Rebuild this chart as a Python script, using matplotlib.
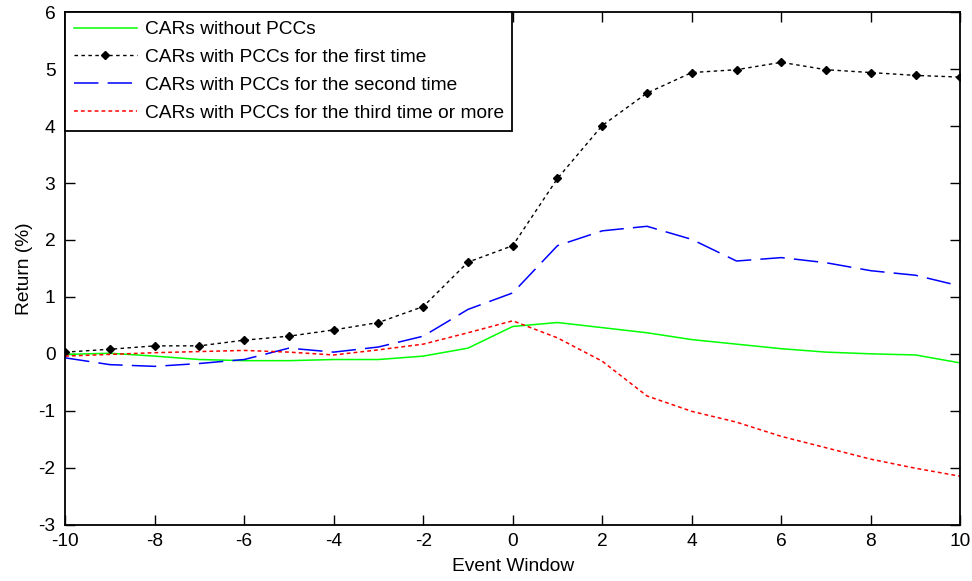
import matplotlib
matplotlib.use("Agg")
import matplotlib.pyplot as plt

# event window days
days = list(range(-10, 11))

# cumulative abnormal returns (%)
car_none = [-0.01, 0.01, -0.04, -0.10, -0.12, -0.12, -0.10, -0.10, -0.04, 0.10, 0.48,
            0.55, 0.46, 0.37, 0.25, 0.17, 0.09, 0.03, 0.00, -0.02, -0.16]
car_first = [0.03, 0.08, 0.14, 0.14, 0.24, 0.31, 0.42, 0.55, 0.83, 1.61, 1.90,
             3.08, 4.01, 4.58, 4.94, 4.99, 5.12, 4.99, 4.94, 4.89, 4.86]
car_second = [-0.07, -0.19, -0.22, -0.17, -0.10, 0.10, 0.03, 0.12, 0.31, 0.78, 1.07,
              1.90, 2.16, 2.24, 2.01, 1.63, 1.69, 1.60, 1.46, 1.38, 1.19]
car_third = [-0.04, -0.01, 0.02, 0.04, 0.06, 0.03, -0.02, 0.07, 0.17, 0.37, 0.58,
             0.28, -0.13, -0.74, -1.01, -1.20, -1.45, -1.65, -1.85, -2.01, -2.15]

labels = ["CARs without PCCs",
          "CARs with PCCs for the first time",
          "CARs with PCCs for the second time",
          "CARs with PCCs for the third time or more"]

xticks = list(range(-10, 11, 2))
yticks = list(range(-3, 7))

plt.rcParams['font.family'] = ['Liberation Sans', 'DejaVu Sans']
plt.rcParams['font.size'] = 13.8
plt.rcParams['axes.unicode_minus'] = False

fig = plt.figure(figsize=(9.72, 5.81), dpi=100)
ax = fig.add_axes([0.067, 0.097, 0.921, 0.882])

ax.plot(days, car_none, color='#00ff00', lw=1.1, label=labels[0])
ax.plot(days, car_first, color='black', lw=1.0, dashes=(2.5, 2.5),
        marker='D', markersize=4, label=labels[1])
ax.plot(days, car_second, color='blue', lw=1.1, dashes=(16, 6), label=labels[2])
ax.plot(days, car_third, color='red', lw=1.1, dashes=(2.5, 2), label=labels[3])

ax.set_xlim(-10, 10)
ax.set_ylim(-3, 6)
ax.set_xticks(xticks)
ax.set_yticks(yticks)
ax.tick_params(direction='in', length=7, width=1, top=True, right=True,
               labeltop=False, labelright=False)
ax.tick_params(axis='x', pad=6)
ax.tick_params(axis='y', pad=7)
for s in ax.spines.values():
    s.set_linewidth(1.3)

ax.set_xlabel("Event Window", labelpad=6)
ax.set_ylabel("Return (%)", labelpad=4)

leg = ax.legend(loc='upper left', borderaxespad=0, fancybox=False,
                edgecolor='black', framealpha=1, handlelength=3.3,
                handletextpad=0.4, labelspacing=0.55, borderpad=0.45)
leg.get_frame().set_linewidth(1.3)
leg.set_zorder(10)

fig.savefig("out.png", dpi=100)
